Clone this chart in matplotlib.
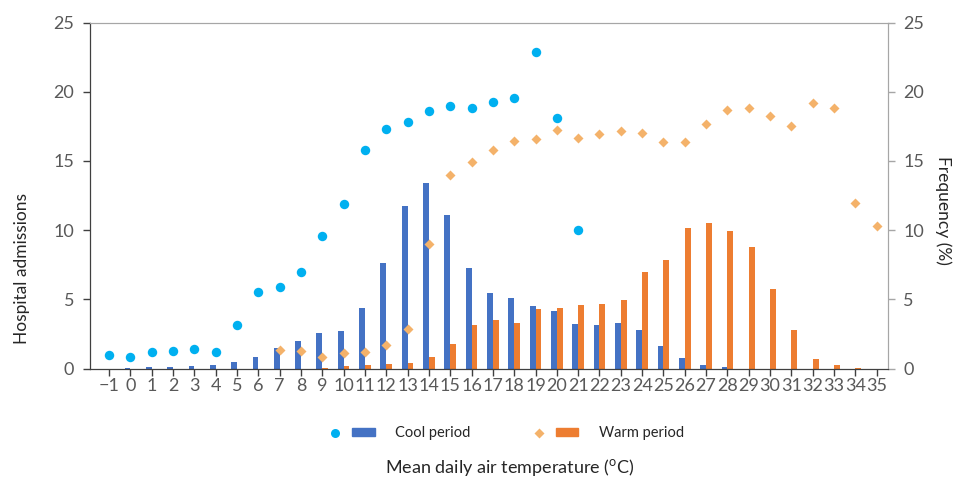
import numpy as np
import matplotlib
matplotlib.use("Agg")
import matplotlib.pyplot as plt
from matplotlib.legend_handler import HandlerTuple
from matplotlib.lines import Line2D
from matplotlib.patches import Patch

plt.rcParams['font.family'] = ['Lato', 'DejaVu Sans']
plt.rcParams['mathtext.fontset'] = 'custom'
plt.rcParams['mathtext.rm'] = 'Lato'
plt.rcParams['axes.unicode_minus'] = True

# Data
temps = list(range(-1, 36))

# hospital admissions, cool period (-1 .. 21 degC)
cool_temps = list(range(-1, 22))
cool_adm = [1.0, 0.8, 1.2, 1.27, 1.42, 1.18, 3.13, 5.5, 5.9, 6.97, 9.55, 11.9,
            15.77, 17.28, 17.79, 18.65, 18.99, 18.8, 19.23, 19.55, 22.89, 18.1, 10.0]

# hospital admissions, warm period (7 .. 35 degC)
warm_temps = list(range(7, 36))
warm_adm = [1.32, 1.29, 0.84, 1.15, 1.17, 1.68, 2.88, 8.97, 13.98, 14.92, 15.79,
            16.46, 16.6, 17.23, 16.66, 16.94, 17.16, 17.02, 16.39, 16.39, 17.69,
            18.67, 18.82, 18.24, 17.54, 19.16, 18.82, 11.98, 10.29]

# frequency (%) of days, per temperature
cool_freq = [0, 0.03, 0.08, 0.1, 0.17, 0.26, 0.5, 0.81, 1.51, 1.97, 2.57, 2.73,
             4.34, 7.65, 11.75, 13.43, 11.08, 7.29, 5.44, 5.11, 4.53, 4.17, 3.21,
             3.12, 3.29, 2.79, 1.62, 0.77, 0.24, 0.12, 0, 0, 0, 0, 0, 0, 0]
warm_freq = [0, 0, 0, 0, 0, 0, 0, 0, 0, 0, 0.05, 0.15, 0.24, 0.36, 0.43, 0.84,
             1.8, 3.12, 3.5, 3.26, 4.32, 4.36, 4.56, 4.63, 4.92, 7.0, 7.88, 10.19,
             10.55, 9.95, 8.75, 5.73, 2.82, 0.70, 0.27, 0.03, 0]

c_dot = '#00B0F0'
c_cool = '#4472C4'
c_warm = '#ED7D31'
c_dia = '#F4B26A'
c_tick = '#595959'

fig = plt.figure(figsize=(9.56, 4.84), dpi=100)
ax = fig.add_axes([0.0937, 0.2386, 0.835, 0.7146])
ax2 = ax.twinx()

x = np.array(temps)
w = 0.27
ax2.bar(x - w / 2, cool_freq, width=w, color=c_cool, zorder=2)
ax2.bar(x + w / 2, warm_freq, width=w, color=c_warm, zorder=2)

ax.plot(cool_temps, cool_adm, 'o', color=c_dot, ms=6.8, mec='none')
ax.plot(warm_temps, warm_adm, 'D', color=c_dia, ms=5, mec='none')

# dots above the bars
ax.set_zorder(ax2.get_zorder() + 1)
ax.patch.set_visible(False)

for a in (ax, ax2):
    a.set_ylim(0, 25)
    a.set_yticks([0, 5, 10, 15, 20, 25])
ax.set_xlim(-1.91, 35.52)
ax.set_xticks(temps)

ax.tick_params(axis='both', labelsize=13, colors=c_tick, length=5, width=1)
ax.tick_params(axis='x', pad=2, colors='#404040', labelcolor=c_tick)
ax.tick_params(axis='y', pad=6, colors='#404040', labelcolor=c_tick)
ax2.tick_params(axis='y', labelsize=13, colors='#A6A6A6', labelcolor=c_tick,
                length=5, width=1, pad=6)

ax.spines['left'].set_color('#404040')
ax.spines['bottom'].set_color('#404040')
for a in (ax, ax2):
    a.spines['top'].set_color('#A6A6A6')
    a.spines['right'].set_color('#A6A6A6')

fig.text(0.023, 0.446, 'Hospital admissions', rotation=90, ha='center',
         va='center', fontsize=12.5, color='#262626')
fig.text(0.987, 0.566, 'Frequency (%)', rotation=270, ha='center',
         va='center', fontsize=12.5, color='#262626')
fig.text(0.533, 0.035, r'Mean daily air temperature ($^{\mathrm{o}}$C)',
         ha='center', va='center', fontsize=13, color='#262626')

h_cool = (Line2D([], [], ls='none', marker='o', color=c_dot, ms=6.5, mec='none'),
          Patch(color=c_cool))
h_warm = (Line2D([], [], ls='none', marker='D', color=c_dia, ms=5, mec='none'),
          Patch(color=c_warm))
fig.legend([h_cool, h_warm], ['Cool period', 'Warm period'],
           handler_map={tuple: HandlerTuple(ndivide=None, pad=0.4)},
           loc='center', bbox_to_anchor=(0.527, 0.105), ncol=2, frameon=False,
           fontsize=10.5, handlelength=3.5, handleheight=0.5, handletextpad=1.4,
           columnspacing=3.9, labelcolor='#262626')

fig.savefig('out.png', dpi=100)
